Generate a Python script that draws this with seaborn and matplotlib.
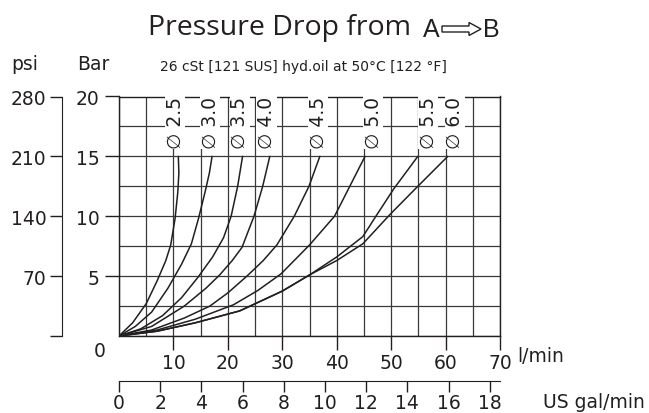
import numpy as np
import pandas as pd
import matplotlib
matplotlib.use("Agg")
import matplotlib.pyplot as plt
import seaborn as sns
from matplotlib.patches import FancyArrow

# Curve data: flow (l/min) vs pressure drop (bar)
sizes = ["2.5", "3.0", "3.5", "4.0", "4.5", "5.0", "5.5", "6.0"]

flow_25 = [0, 2.5, 5, 7, 8.6, 9.5, 10.3, 10.8, 11.0, 10.9]
bar_25 = [0, 1.1, 2.7, 4.6, 6.3, 7.6, 9.8, 12.0, 13.6, 15.0]

flow_30 = [0, 3, 6, 9, 11.5, 13.3, 14.6, 15.8, 16.6, 17.1]
bar_30 = [0, 0.8, 2.0, 4.0, 6.0, 7.7, 9.8, 12.0, 13.6, 15.0]

flow_35 = [0, 4, 8, 11.5, 14.5, 17.2, 19.2, 20.6, 21.8, 22.7]
bar_35 = [0, 0.6, 1.7, 3.2, 4.9, 6.6, 8.2, 10.0, 12.5, 15.0]

flow_40 = [0, 6, 12, 16, 18.5, 20.8, 22.6, 24.8, 26.4, 27.7]
bar_40 = [0, 0.8, 2.5, 4.0, 5.1, 6.3, 7.4, 10.0, 12.5, 15.0]

flow_45 = [0, 6, 12, 16.7, 20, 23.5, 26.5, 29, 32.2, 34.9, 36.9]
bar_45 = [0, 0.5, 1.5, 2.5, 3.6, 5.0, 6.3, 7.6, 10.0, 12.5, 15.0]

flow_50 = [0, 7, 14, 21, 25.5, 29.8, 35, 39.6, 42.4, 45.2]
bar_50 = [0, 0.5, 1.4, 2.6, 3.8, 5.2, 7.6, 10.0, 12.5, 15.0]

flow_55 = [0, 7, 14, 22.2, 30, 35, 40, 44.8, 47.2, 50.5, 54.9]
bar_55 = [0, 0.4, 1.1, 2.1, 3.75, 5.1, 6.6, 8.3, 10.0, 12.3, 15.0]

flow_60 = [0, 7, 14, 22.2, 30, 35, 40, 44.8, 49.9, 54.9, 60.4]
bar_60 = [0, 0.4, 1.1, 2.1, 3.75, 5.1, 6.3, 7.7, 10.2, 12.5, 15.0]

# where the size labels sit (l/min)
label_flow = [10.3, 16.7, 22.2, 27.1, 36.6, 46.7, 56.8, 61.7]

bar_ticks = [5, 10, 15, 20]
psi_ticks = [0, 70, 140, 210, 280]
psi_labels = ["", "70", "140", "210", "280"]
lmin_ticks = [10, 20, 30, 40, 50, 60, 70]
gal_ticks = [0, 2, 4, 6, 8, 10, 12, 14, 16, 18]

flows = [flow_25, flow_30, flow_35, flow_40, flow_45, flow_50, flow_55, flow_60]
bars = [bar_25, bar_30, bar_35, bar_40, bar_45, bar_50, bar_55, bar_60]

rows = []
for s, fl, br in zip(sizes, flows, bars):
    for i, (f, b) in enumerate(zip(fl, br)):
        rows.append({"size": s, "flow": f, "bar": b, "idx": i})
df = pd.DataFrame(rows)

sns.set_style("white")
plt.rcParams['font.family'] = ['DejaVu Sans']

ink = "#231f20"
W, H = 649, 414
fs = 13.5

fig = plt.figure(figsize=(6.49, 4.14), dpi=100)
ax = fig.add_axes([119 / W, 77 / H, 381 / W, 239.5 / H])

sns.lineplot(data=df, x="flow", y="bar", hue="size",
             palette={s: ink for s in sizes}, sort=False,
             estimator=None, legend=False, linewidth=1.1, ax=ax)

ax.set_xlim(0, 70)
ax.set_ylim(0, 20)
ax.set_xlabel("")
ax.set_ylabel("")

ax.set_xticks(lmin_ticks)
ax.set_xticks(np.arange(0, 71, 5), minor=True)
ax.set_yticks(bar_ticks)
ax.set_yticks(np.arange(0, 20.1, 2.5), minor=True)
ax.grid(which="both", color="#3a3a3a", linewidth=0.9)
ax.set_axisbelow(True)
ax.tick_params(which="minor", length=0)
ax.tick_params(axis="x", which="major", bottom=True, direction="out",
               length=10, width=1, pad=2, labelsize=fs, colors=ink)
ax.tick_params(axis="y", which="major", left=True, direction="out",
               length=10, width=1, pad=4, labelsize=fs, colors=ink)
for sp in ax.spines.values():
    sp.set_visible(True)
    sp.set_color(ink)
    sp.set_linewidth(1)

# size labels
for s, x in zip(sizes, label_flow):
    ax.text(x, 17.85, "\u2205 " + s, rotation=90, ha="center", va="center",
            fontsize=13.5, color=ink, zorder=5,
            bbox=dict(facecolor="white", edgecolor="none", pad=0.4))

# psi axis
ax_psi = fig.add_axes([62 / W, 77 / H, 0.0001, 239.5 / H])
ax_psi.set_ylim(0, 280)
ax_psi.set_xticks([])
ax_psi.set_yticks(psi_ticks)
ax_psi.set_yticklabels(psi_labels)
for k in ["top", "right", "bottom"]:
    ax_psi.spines[k].set_visible(False)
ax_psi.spines["left"].set_color(ink)
ax_psi.tick_params(axis="y", left=True, direction="out", length=9, width=1,
                   pad=2, labelsize=fs, colors=ink)
ax_psi.patch.set_visible(False)

# US gal/min axis
ax_gal = fig.add_axes([119 / W, (H - 382) / H, 381 / W, 0.0001])
ax_gal.set_xlim(0, 70 / 3.785)
ax_gal.set_yticks([])
ax_gal.set_xticks(gal_ticks)
for k in ["top", "right", "left"]:
    ax_gal.spines[k].set_visible(False)
ax_gal.spines["bottom"].set_color(ink)
ax_gal.tick_params(axis="x", bottom=True, direction="out", length=8, width=1,
                   pad=1, labelsize=fs, colors=ink)
ax_gal.patch.set_visible(False)

# texts
def ftext(x, y, s, **kw):
    fig.text(x / W, 1 - y / H, s, color=ink, **kw)

ftext(25, 65, "psi", fontsize=fs, ha="center", va="center")
ftext(93, 65, "Bar", fontsize=fs, ha="center", va="center")
ftext(100, 352, "0", fontsize=fs, ha="center", va="center")
ftext(517, 356, "l/min", fontsize=fs, ha="left", va="center")
ftext(543, 403, "US gal/min", fontsize=fs, ha="left", va="center")
ftext(160, 67, "26 cSt [121 SUS] hyd.oil at 50\u00b0C [122 \u00b0F]",
      fontsize=10, ha="left", va="center")
ftext(148, 28, "Pressure Drop from", fontsize=20.5, ha="left", va="center",
      family=["Open Sans", "DejaVu Sans"])
ftext(423, 30, "A", fontsize=18, ha="left", va="center",
      family=["Liberation Sans"])
ftext(483, 30, "B", fontsize=18, ha="left", va="center",
      family=["Liberation Sans"])
arrow = FancyArrow(442 / W, 1 - 30 / H, 39 / W, 0, width=6 / H,
                   head_width=13 / H, head_length=12 / W,
                   length_includes_head=True, transform=fig.transFigure,
                   facecolor="white", edgecolor=ink, linewidth=1)
fig.patches.append(arrow)

fig.savefig("out.png", dpi=100)
